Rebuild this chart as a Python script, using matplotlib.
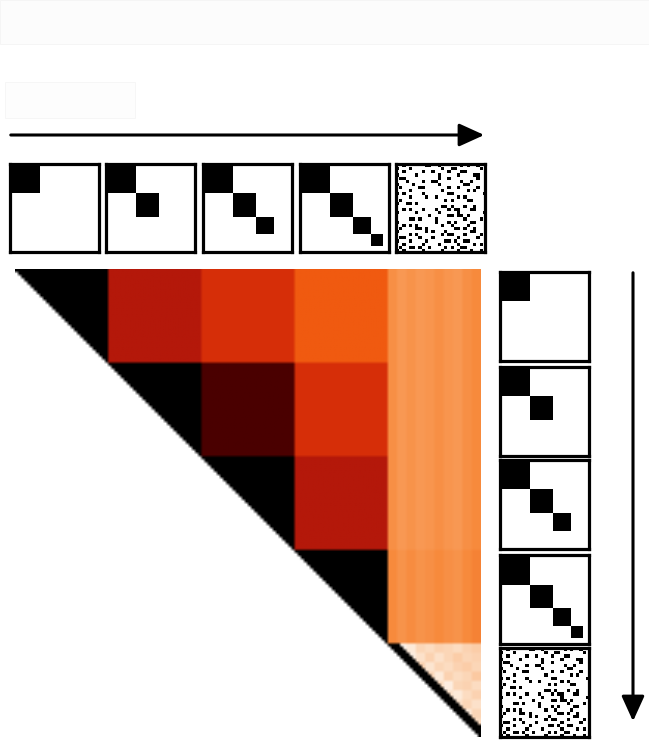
import numpy as np
import matplotlib
matplotlib.use("Agg")
import matplotlib.pyplot as plt
from matplotlib.colors import LinearSegmentedColormap
from matplotlib.patches import FancyArrowPatch, Rectangle

W, H = 649, 750

# block-level distances between the 5 settings (upper triangle, row i / col j)
BLOCK_VALUES = [
    [0.00, 0.40, 0.50, 0.60, 0.75],
    [None, 0.00, 0.20, 0.50, 0.75],
    [None, None, 0.00, 0.40, 0.75],
    [None, None, None, 0.00, 0.73],
    [None, None, None, None, 0.91],
]
# small per-column variation inside the last column of blocks
STRIPES = [-0.01, 0.02, 0.00, 0.02, 0.01, -0.01, 0.01, 0.02, -0.01, -0.03]
# values inside the last diagonal block (noisy, light)
CORNER_PATCH = [
    [0.00, 0.97, 0.95, 0.91, 0.92, 0.90, 0.91, 0.92, 0.90, 0.89],
    [0.00, 0.00, 0.96, 0.93, 0.90, 0.93, 0.91, 0.89, 0.91, 0.90],
    [0.00, 0.00, 0.00, 0.90, 0.94, 0.91, 0.92, 0.90, 0.89, 0.91],
    [0.00, 0.00, 0.00, 0.00, 0.91, 0.95, 0.90, 0.92, 0.91, 0.88],
    [0.00, 0.00, 0.00, 0.00, 0.00, 0.92, 0.96, 0.91, 0.90, 0.92],
    [0.00, 0.00, 0.00, 0.00, 0.00, 0.00, 0.93, 0.95, 0.92, 0.90],
    [0.00, 0.00, 0.00, 0.00, 0.00, 0.00, 0.00, 0.93, 0.91, 0.93],
    [0.00, 0.00, 0.00, 0.00, 0.00, 0.00, 0.00, 0.00, 0.95, 0.91],
    [0.00, 0.00, 0.00, 0.00, 0.00, 0.00, 0.00, 0.00, 0.00, 0.92],
    [0.00, 0.00, 0.00, 0.00, 0.00, 0.00, 0.00, 0.00, 0.00, 0.00],
]

HEAT_POS = [0.0, 0.2, 0.4, 0.5, 0.6, 0.72, 0.8, 0.92, 1.0]
HEAT_COLORS = ['#000000', '#4a0000', '#b4180a', '#d62e08', '#f05a10',
               '#f78a3c', '#f9a060', '#fcdcc0', '#ffffff']

# block sizes of the structured matrices (out of a 30 grid)
ICON_BLOCKS = [[10], [10, 8], [10, 8, 6], [10, 8, 6, 4]]

RANDOM_BITS = [
    "..#......##..#......#.#..#..",
    "#...#.........#..##.......#.",
    "..#.....#..#....#...##......",
    "#.....#......#.....#....##..",
    ".##..........#..#........#..",
    "...#....#..##.......#..#....",
    "#....#.......#.......##.....",
    ".#.....##.......#..#.....#..",
    "....#.........#.......#.#...",
    "#.#.....#.......##.........#",
    "....#....#..#......#.#......",
    ".#.............#.#....##....",
    "#..##.#.....................",
    "..............##.#...#..#...",
    "..#.#...#...#...#.##...##...",
    "#.....#......#.....#.......#",
    "..........#.....##.##.#.....",
    "....##.#....#........#....#.",
    "#...........#...#.#....##...",
    "..#.#.#.......#..#....#.....",
    ".#....##.#........##.#..#...",
    "#........#.#...#.......##...",
    "....#.#.......#.##...#....#.",
    ".##....#...#.......#.....#..",
    "#...#....#.....##.#..##.....",
    "..#.....#....#.....#....#.#.",
    ".#..##.#..#....#.#..##......",
    "#.#.....#.....#....#...#..#.",
]

TOP_ICON_X = [10, 106, 203, 300, 396]
RIGHT_ICON_Y = [272, 367, 460, 555, 648]


def px_axes(fig, x0, y0, x1, y1):
    return fig.add_axes([x0 / W, 1 - y1 / H, (x1 - x0) / W, (y1 - y0) / H])


def icon_image(i):
    if i < len(ICON_BLOCKS):
        img = np.ones((30, 30))
        start = 0
        for b in ICON_BLOCKS[i]:
            img[start:start + b, start:start + b] = 0
            start += b
        return img
    rows = [r.ljust(28, '.')[:28] for r in RANDOM_BITS]
    return np.array([[0.0 if c == '#' else 1.0 for c in r] for r in rows])


def draw_icon(ax, i):
    ax.imshow(icon_image(i), cmap='gray', vmin=0, vmax=1,
              interpolation='nearest', aspect='auto')
    ax.set_xticks([])
    ax.set_yticks([])
    for s in ax.spines.values():
        s.set_linewidth(2.3)
        s.set_color('black')


def build_matrix(per=30):
    n = len(BLOCK_VALUES)
    M = np.zeros((n * per, n * per))
    for i in range(n):
        for j in range(i, n):
            M[i*per:(i+1)*per, j*per:(j+1)*per] = BLOCK_VALUES[i][j]
    # stripes in the last column of blocks
    stripe = np.repeat(STRIPES, per // len(STRIPES))
    M[:(n-1)*per, (n-1)*per:] += stripe[None, :]
    # last diagonal block, black band along the diagonal
    patch = np.kron(np.array(CORNER_PATCH), np.ones((per // 10, per // 10)))
    M[(n-1)*per:, (n-1)*per:] = patch
    k = (n - 1) * per
    for t in range(per):
        M[k + t, k + t:min(k + t + 4, n * per)] = 0
    mask = np.tril(np.ones_like(M, dtype=bool), -1)
    return np.ma.array(M, mask=mask)


fig = plt.figure(figsize=(W / 100, H / 100), dpi=100)

# faint redacted bands at the top
fig.patches.append(Rectangle((0, 1 - 44 / H), 1, 44 / H, transform=fig.transFigure,
                             facecolor='#fcfcfc', edgecolor='#f4f4f4', lw=0.6))
fig.patches.append(Rectangle((5 / W, 1 - 118 / H), 130 / W, 36 / H, transform=fig.transFigure,
                             facecolor='#fdfdfd', edgecolor='#f5f5f5', lw=0.6))

# arrows
fig.patches.append(FancyArrowPatch((8 / W, 1 - 135 / H), (487 / W, 1 - 135 / H),
                                   transform=fig.transFigure, arrowstyle='-|>,head_length=1.1,head_width=0.5',
                                   mutation_scale=14, lw=2.2, color='black'))
fig.patches.append(FancyArrowPatch((633 / W, 1 - 270 / H), (633 / W, 1 - 724 / H),
                                   transform=fig.transFigure, arrowstyle='-|>,head_length=1.1,head_width=0.5',
                                   mutation_scale=14, lw=2.2, color='black'))

# top row of matrices
for i, x in enumerate(TOP_ICON_X):
    ax = px_axes(fig, x, 164, x + 89, 252)
    draw_icon(ax, i)

# right column of matrices
for i, y in enumerate(RIGHT_ICON_Y):
    ax = px_axes(fig, 500, y, 589, y + 89)
    draw_icon(ax, i)

# heatmap
cmap = LinearSegmentedColormap.from_list('heat', list(zip(HEAT_POS, HEAT_COLORS)))
cmap.set_bad('white')
ax = px_axes(fig, 15, 269, 481, 737)
ax.imshow(build_matrix(), cmap=cmap, vmin=0, vmax=1, interpolation='bilinear',
          interpolation_stage='rgba', aspect='auto')
ax.axis('off')

fig.savefig('out.png', dpi=100)
